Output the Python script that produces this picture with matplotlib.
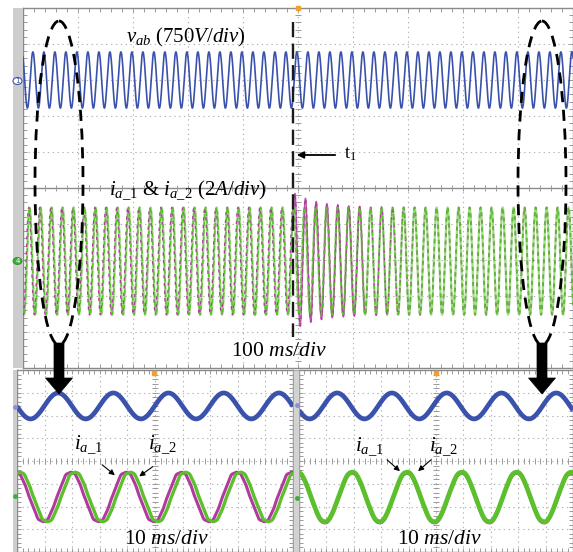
import numpy as np
import matplotlib.pyplot as plt
from matplotlib.patches import Ellipse, Polygon, Rectangle

plt.rcParams['font.family'] = 'Liberation Serif'
plt.rcParams['mathtext.fontset'] = 'custom'
plt.rcParams['mathtext.rm'] = 'Liberation Serif'
plt.rcParams['mathtext.it'] = 'Liberation Serif:italic'
plt.rcParams['lines.scale_dashes'] = False

W, H = 573, 552

# waveform parameters (amplitudes / offsets in divisions)
f_line = 50.0                     # Hz
top_span_ms = 1000                # 100 ms/div, 10 div
top_vdiv = 10
v_top = [0.78, 3.0, 18.0]         # amp, offset, time of first peak (ms)
i_top = [1.49, -2.03, 12.0]
t1_ms = 491
ia1_lead_ms = 1.4                 # ia_1 leads ia_2 before t1
ia1_overshoot = 0.42              # extra amplitude of ia_1 just after t1
ia1_tau_ms = 45
transient_ms = 130                # span where ia_1 visibly departs from ia_2

bot_span_ms = 100                 # 10 ms/div, 10 div
bot_vdiv = 8
v_bot = [0.57, 2.42]
i_bot = [1.10, -1.58]
v_peak_ms = [14.9, 13.9]          # left zoom (before t1), right zoom (after t1)
ia2_peak_ms = [21.0, 19.4]
ia1_lead_bot_ms = [1.5, 0.0]
harm_order = [5, 7, 11]
harm_amp_left = [0.02, 0.015, 0.012]
harm_amp_right = [0.008, 0.006, 0.0]

BLUE = '#3a52ac'
GREEN = '#5cbf2c'
MAGENTA = '#b03a9e'


def wave(t, amp, off, peak, harm_amp=None):
    ph = 2 * np.pi * f_line * (t - peak) / 1000.0
    y = amp * np.cos(ph)
    if harm_amp is not None:
        for n, a in zip(harm_order, harm_amp):
            y = y + a * np.cos(n * ph + 0.6 * n)
    return y + off


def scope_grid(ax, xspan, ndiv_y, solid_mid=False):
    ax.set_xlim(0, xspan)
    ax.set_ylim(-ndiv_y / 2, ndiv_y / 2)
    dx = xspan / 10
    for k in range(1, 10):
        ax.axvline(k * dx, color='#b4b4b4', lw=0.8, ls=(0, (1, 2.5)), zorder=0)
    for k in range(1, ndiv_y):
        y = -ndiv_y / 2 + k
        if solid_mid and y == 0:
            ax.axhline(y, color='#8c8c8c', lw=1.0, zorder=0)
        else:
            ax.axhline(y, color='#b4b4b4', lw=0.8, ls=(0, (1, 2.5)), zorder=0)
    xm = np.arange(0, xspan + 1e-9, dx / 5)
    ym = np.arange(-ndiv_y / 2, ndiv_y / 2 + 1e-9, 0.2)
    ax.plot(xm, np.zeros_like(xm), ls='', marker='|', ms=4, mew=0.7, color='#9a9a9a', zorder=0)
    ax.plot(np.full_like(ym, xspan / 2), ym, ls='', marker='_', ms=4, mew=0.7, color='#9a9a9a', zorder=0)
    ax.set_xticks(xm, minor=True)
    ax.set_yticks(ym, minor=True)
    ax.set_xticks([])
    ax.set_yticks([])
    ax.tick_params(which='minor', direction='in', length=3, width=0.7, color='#9a9a9a',
                   top=True, right=True, labelbottom=False, labelleft=False)
    for s in ax.spines.values():
        s.set_color('#8a8a8a')
        s.set_linewidth(1.0)


fig = plt.figure(figsize=(W / 100, H / 100), dpi=100)

# ---------------- top screen ----------------
ax = fig.add_axes([23 / W, (H - 368) / H, (W - 23) / W, 360 / H])
scope_grid(ax, top_span_ms, top_vdiv, solid_mid=True)
t = np.linspace(0, top_span_ms, 30000)
ax.plot(t, wave(t, *v_top), color=BLUE, lw=1.2, zorder=3)

after = t >= t1_ms
decay = np.where(after, np.exp(-(t - t1_ms) / ia1_tau_ms), 0.0)
lead = np.where(after, -2.5 * decay, ia1_lead_ms)
ia2 = wave(t, *i_top)
ia1 = wave(t, i_top[0] + ia1_overshoot * decay, i_top[1], i_top[2] - lead)
ax.plot(t, ia2, color='#a3da8e', lw=1.6, zorder=2)
seg = (t >= t1_ms) & (t <= t1_ms + transient_ms)
ax.plot(t[seg], ia1[seg], color=MAGENTA, lw=1.0, alpha=0.85, zorder=2.5)
ax.plot(t, ia1, color=MAGENTA, lw=1.0, ls=(0, (2.5, 3)), zorder=3)
ax.plot(t, ia2, color=GREEN, lw=1.1, ls=(2.5, (3, 2.5)), zorder=3)

# ---------------- bottom zoom screens ----------------
boxes = [[17 / W, 0, 276 / W, 182 / H], [299 / W, 0, 274 / W, 182 / H]]
tb = np.linspace(0, bot_span_ms, 4000)
for k, box in enumerate(boxes):
    axb = fig.add_axes(box)
    scope_grid(axb, bot_span_ms, bot_vdiv)
    axb.plot(tb, wave(tb, v_bot[0], v_bot[1], v_peak_ms[k]), color=BLUE, lw=3.4,
             solid_capstyle='butt', zorder=3)
    harm = harm_amp_left if k == 0 else harm_amp_right
    i2 = wave(tb, i_bot[0], i_bot[1], ia2_peak_ms[k], harm)
    i1 = wave(tb, i_bot[0], i_bot[1] - 0.05 * k, ia2_peak_ms[k] - ia1_lead_bot_ms[k], harm)
    if k == 0:
        axb.plot(tb, i1, color=MAGENTA, lw=2.2, zorder=3)
        axb.plot(tb, i2, color=GREEN, lw=2.4, zorder=4)
    else:
        axb.plot(tb, i1, color=MAGENTA, lw=2.2, zorder=3)
        axb.plot(tb, i2, color=GREEN, lw=3.4, zorder=4)

# ---------------- overlay: bars, markers, annotations ----------------
ov = fig.add_axes([0, 0, 1, 1], zorder=10)
ov.set_xlim(0, W)
ov.set_ylim(H, 0)
ov.axis('off')
ov.patch.set_alpha(0)

ov.add_patch(Rectangle((13, 8), 10, 360, facecolor='#cdcdcd', edgecolor='none'))
ov.add_patch(Rectangle((13, 370), 4, 182, facecolor='#cdcdcd', edgecolor='none'))
ov.add_patch(Rectangle((293, 370), 6, 182, facecolor='#d2d2d2', edgecolor='#a0a0a0', lw=0.6))

# channel markers
ov.add_patch(Ellipse((17.5, 81), 9, 7, facecolor='white', edgecolor=BLUE, lw=0.8))
ov.text(17.5, 81.3, '1', fontsize=5, color=BLUE, ha='center', va='center', family='DejaVu Sans')
ov.add_patch(Ellipse((17.5, 261), 9, 7, facecolor='#3cae3c', edgecolor='#2a8a2a', lw=0.6))
ov.text(17.5, 261.3, '4', fontsize=5, color='white', ha='center', va='center', family='DejaVu Sans')
for x, y, c in [(15, 407, '#8f8fd8'), (15, 496, '#3cae3c'), (297, 405, '#8f8fd8'), (297, 498, '#3cae3c')]:
    ov.plot(x, y, marker='o', ms=2.5, color=c)
for x, y in [(298, 8), (154, 373), (436, 373)]:
    ov.plot(x, y, marker='s', ms=2.5, color='#f0a030')

# dashed ellipses and big arrows
for cx in [59, 542]:
    ov.add_patch(Ellipse((cx, 183), 48, 324, fill=False, edgecolor='black', lw=2.0,
                         ls=(0, (8, 5.5))))
    ov.add_patch(Polygon([(cx - 5, 343), (cx + 5, 343), (cx + 5, 378), (cx + 13.5, 378),
                          (cx, 394), (cx - 13.5, 378), (cx - 5, 378)],
                         closed=True, facecolor='black', edgecolor='black', lw=0.5))

# t1 marker
ov.plot([293, 293], [22, 337], color='#1a1a1a', lw=1.7, ls=(0, (11, 4.5)))
ov.annotate('', xy=(294, 155), xytext=(338, 155),
            arrowprops=dict(arrowstyle='-|>', lw=1.3, color='black', mutation_scale=10))
ov.text(344, 154, r'$\mathrm{t}_1$', fontsize=13, ha='left', va='center')

# labels
ov.text(186, 37, r'$v_{ab}$ (750$V/div$)', fontsize=15, ha='center', va='center')
ov.text(188, 190, r'$i_{a\_1}$ & $i_{a\_2}$ (2$A/div$)', fontsize=15, ha='center', va='center')
ov.text(279, 352, r'100 $ms/div$', fontsize=15.5, ha='center', va='center')
ov.text(167, 540, r'10 $ms/div$', fontsize=15.5, ha='center', va='center')
ov.text(440, 540, r'10 $ms/div$', fontsize=15.5, ha='center', va='center')

for (tx1, tx2, a1, a2) in [((88, 445), (162, 445), ((100, 463), (117, 477)), ((155, 465), (137, 478))),
                           ((369, 447), (443, 447), ((385, 458), (402, 473)), ((433, 458), (416, 473)))]:
    ov.text(*tx1, r'$i_{a\_1}$', fontsize=15, ha='center', va='center')
    ov.text(*tx2, r'$i_{a\_2}$', fontsize=15, ha='center', va='center')
    for a in (a1, a2):
        ov.annotate('', xy=a[1], xytext=a[0],
                    arrowprops=dict(arrowstyle='-|>', lw=0.8, color='black', mutation_scale=8))

fig.savefig('out.png', dpi=100)
